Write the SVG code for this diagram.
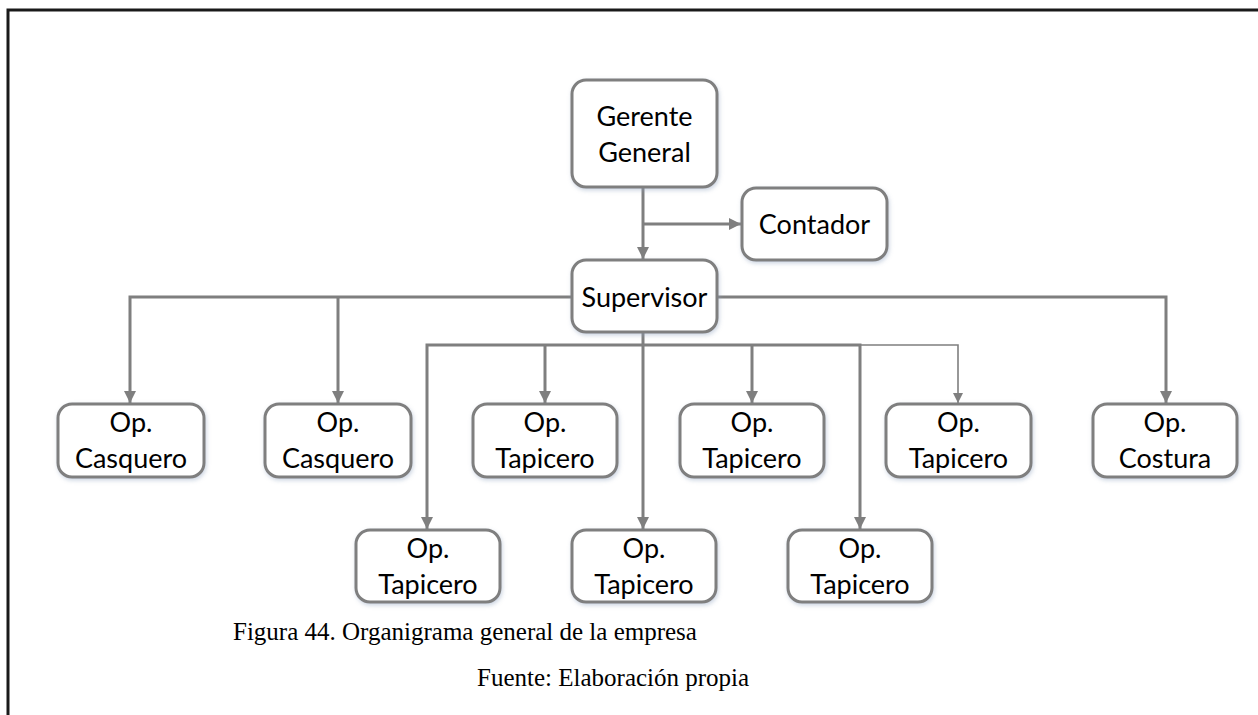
<svg xmlns="http://www.w3.org/2000/svg" width="1258" height="715" viewBox="0 0 1258 715">
  <style>
    .box { fill: #ffffff; stroke: #7f7f7f; stroke-width: 3; filter: url(#glow); }
    .lbl { font-family: Lato, "Open Sans", sans-serif; font-size: 27px; fill: #000000; text-anchor: middle; }
    .wire { fill: none; stroke: #7f7f7f; stroke-width: 3; }
    .wire-thin { fill: none; stroke: #7f7f7f; stroke-width: 1.6; }
    .cap { font-family: "Liberation Serif", "Times New Roman", serif; font-size: 25px; fill: #000000; }
  </style>
  <defs>
    <filter id="glow" x="-10%" y="-20%" width="120%" height="140%">
      <feDropShadow dx="1" dy="2" stdDeviation="2" flood-color="#8fa3bf" flood-opacity="0.45"/>
    </filter>
    <marker id="arr" markerUnits="userSpaceOnUse" markerWidth="14" markerHeight="14" viewBox="0 0 14 14" refX="13" refY="7" orient="auto">
      <path d="M1,1 L13,7 L1,13 Z" fill="#7f7f7f"/>
    </marker>
    <marker id="arr-s" markerUnits="userSpaceOnUse" markerWidth="12" markerHeight="12" viewBox="0 0 12 12" refX="11" refY="6" orient="auto">
      <path d="M1,1 L11,6 L1,11 Z" fill="#7f7f7f"/>
    </marker>
  </defs>

  <rect width="1258" height="715" fill="#ffffff"/>

  <!-- page frame -->
  <path d="M8,715 V10 H1258" fill="none" stroke="#1a1a1a" stroke-width="3"/>

  <g id="connectors">
    <path class="wire" d="M643,187 V259" marker-end="url(#arr)"/>
    <path class="wire" d="M643,224 H741" marker-end="url(#arr)"/>
    <path class="wire" d="M572,297 H130 V403" marker-end="url(#arr)"/>
    <path class="wire" d="M338,297 V403" marker-end="url(#arr)"/>
    <path class="wire" d="M717,297 H1166 V403" marker-end="url(#arr)"/>
    <path class="wire" d="M643,332 V529" marker-end="url(#arr)"/>
    <path class="wire" d="M643,345 H427 V529" marker-end="url(#arr)"/>
    <path class="wire" d="M545,345 V403" marker-end="url(#arr)"/>
    <path class="wire" d="M643,345 H860 V529" marker-end="url(#arr)"/>
    <path class="wire" d="M752,345 V403" marker-end="url(#arr)"/>
    <path class="wire-thin" d="M860,345 H958 V403" marker-end="url(#arr-s)"/>
  </g>

  <g id="gerente">
    <rect class="box" x="572" y="80" width="145" height="107" rx="14"/>
    <text class="lbl" x="644.5" y="126">Gerente</text>
    <text class="lbl" x="644.5" y="162">General</text>
  </g>

  <g id="contador">
    <rect class="box" x="742" y="188" width="145" height="72" rx="14"/>
    <text class="lbl" x="814.5" y="234">Contador</text>
  </g>

  <g id="supervisor">
    <rect class="box" x="572" y="260" width="145" height="72" rx="14"/>
    <text class="lbl" x="644.5" y="307">Supervisor</text>
  </g>

  <g id="casquero-1">
    <rect class="box" x="58" y="404" width="146" height="73" rx="14"/>
    <text class="lbl" x="131" y="432">Op.</text>
    <text class="lbl" x="131" y="468">Casquero</text>
  </g>

  <g id="casquero-2">
    <rect class="box" x="265" y="404" width="146" height="73" rx="14"/>
    <text class="lbl" x="338" y="432">Op.</text>
    <text class="lbl" x="338" y="468">Casquero</text>
  </g>

  <g id="tapicero-1">
    <rect class="box" x="473" y="404" width="144" height="73" rx="14"/>
    <text class="lbl" x="545" y="432">Op.</text>
    <text class="lbl" x="545" y="468">Tapicero</text>
  </g>

  <g id="tapicero-2">
    <rect class="box" x="680" y="404" width="144" height="73" rx="14"/>
    <text class="lbl" x="752" y="432">Op.</text>
    <text class="lbl" x="752" y="468">Tapicero</text>
  </g>

  <g id="tapicero-3">
    <rect class="box" x="886" y="404" width="145" height="73" rx="14"/>
    <text class="lbl" x="958.5" y="432">Op.</text>
    <text class="lbl" x="958.5" y="468">Tapicero</text>
  </g>

  <g id="costura">
    <rect class="box" x="1093" y="404" width="144" height="73" rx="14"/>
    <text class="lbl" x="1165" y="432">Op.</text>
    <text class="lbl" x="1165" y="468">Costura</text>
  </g>

  <g id="tapicero-4">
    <rect class="box" x="356" y="530" width="144" height="72" rx="14"/>
    <text class="lbl" x="428" y="558">Op.</text>
    <text class="lbl" x="428" y="594">Tapicero</text>
  </g>

  <g id="tapicero-5">
    <rect class="box" x="572" y="530" width="144" height="72" rx="14"/>
    <text class="lbl" x="644" y="558">Op.</text>
    <text class="lbl" x="644" y="594">Tapicero</text>
  </g>

  <g id="tapicero-6">
    <rect class="box" x="788" y="530" width="144" height="72" rx="14"/>
    <text class="lbl" x="860" y="558">Op.</text>
    <text class="lbl" x="860" y="594">Tapicero</text>
  </g>

  <text class="cap" x="233" y="640">Figura 44. Organigrama general de la empresa</text>
  <text class="cap" x="477" y="686">Fuente: Elaboración propia</text>
</svg>
